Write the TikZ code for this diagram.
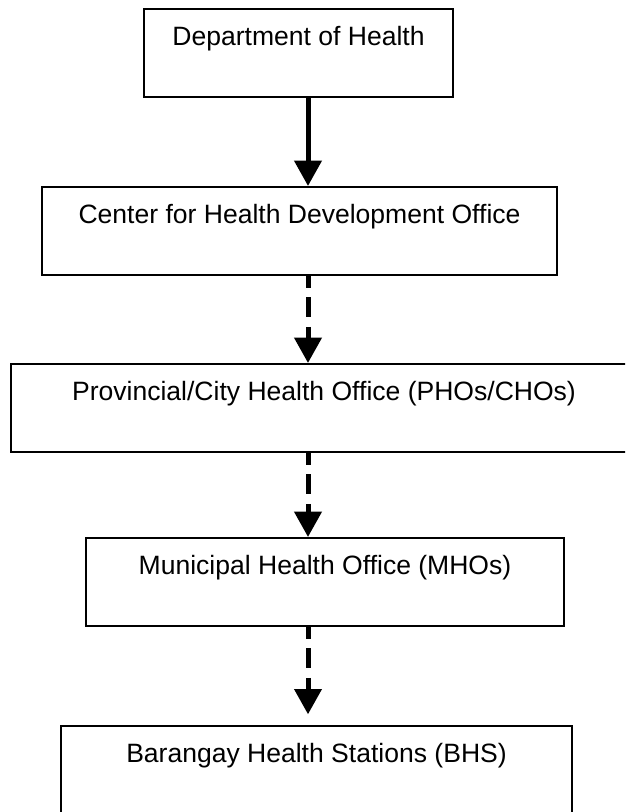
\documentclass[tikz,border=0pt]{standalone}
\usepackage{fontspec}
\setmainfont{Liberation Sans}
\usetikzlibrary{arrows.meta}
\begin{document}
\begin{tikzpicture}[x=0.75pt, y=-0.75pt,
  office/.style={draw, line width=1.6pt, anchor=north, inner sep=0pt,
    text height=27pt, text depth=39pt,
    font=\fontsize{19.9pt}{24pt}\selectfont},
  link/.style={line width=3.75pt, -{Triangle[length=19pt, width=20pt]}},
  weak/.style={link, dash pattern=on 15pt off 7pt, dash phase=6pt}]
\clip (0,0) rectangle (625,812);
\coordinate (spine) at (308,0);
\node[office, minimum width=231.75pt] (off0) at (298.5,8){Department of Health};
\node[office, minimum width=386.25pt] (off1) at (299.5,186){Center for Health Development Office};
\draw[link](off0.south -| spine) -- (off1.north -| spine);
\node[office, minimum width=469.5pt] (off2) at (324,363){Provincial/City Health Office (PHOs/CHOs)};
\draw[weak](off1.south -| spine) -- (off2.north -| spine);
\node[office, minimum width=358.5pt] (off3) at (325,537){Municipal Health Office (MHOs)};
\draw[weak](off2.south -| spine) -- (off3.north -| spine);
\node[office, minimum width=383.25pt] (off4) at (316.5,725){Barangay Health Stations (BHS)};
\draw[weak, shorten >=8pt](off3.south -| spine) -- (off4.north -| spine);
\end{tikzpicture}
\end{document}
